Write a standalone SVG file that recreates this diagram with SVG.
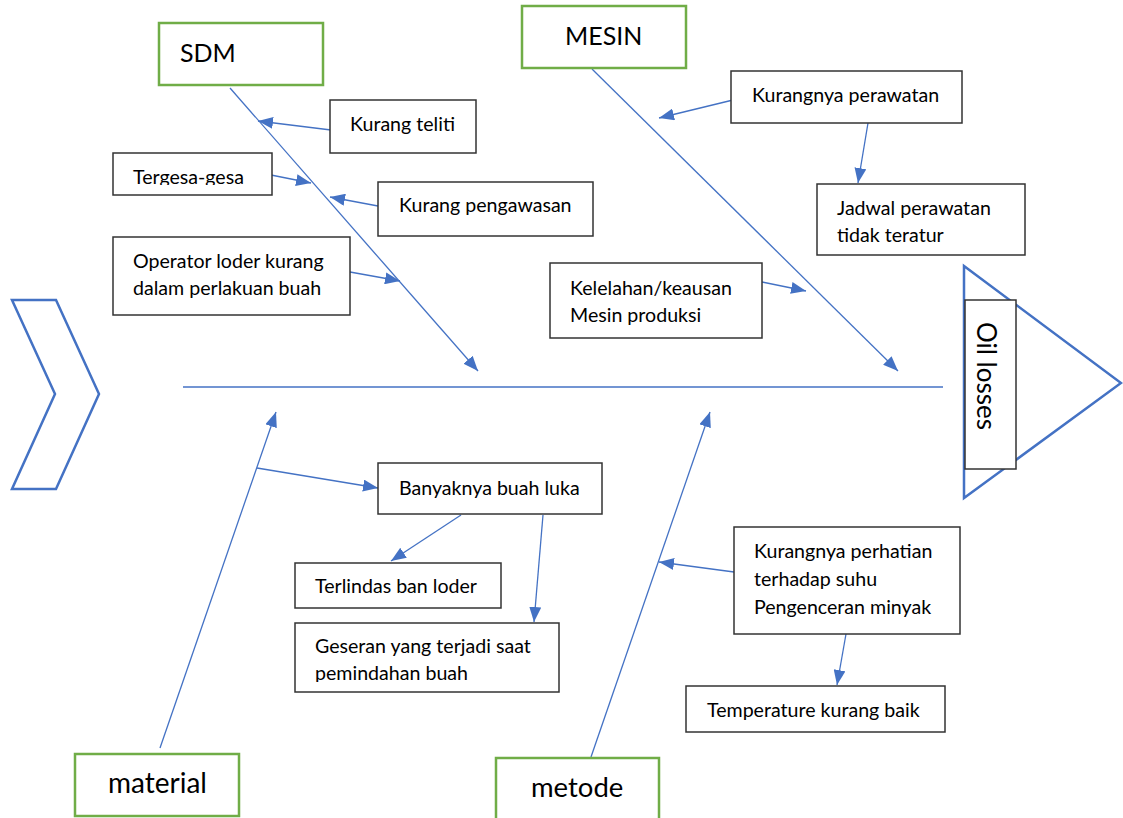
<svg xmlns="http://www.w3.org/2000/svg" width="1123" height="818" viewBox="0 0 1123 818">
<style>
.box{fill:#fff;stroke:#333;stroke-width:1.5}
.cat{fill:#fff;stroke:#70AD47;stroke-width:2.5}
.ln{stroke:#4472C4;stroke-width:1.3;fill:none}
.arr{stroke:#4472C4;stroke-width:1.3;fill:none;marker-end:url(#ah)}
.shape{fill:#fff;stroke:#4472C4;stroke-width:2.5}
.t{font-family:Lato,"Noto Sans",sans-serif;font-size:19.6px;fill:#000}
.tc{font-family:Lato,"Noto Sans",sans-serif;font-size:25px;fill:#000}
</style>
<defs>
<marker id="ah" markerUnits="userSpaceOnUse" markerWidth="16" markerHeight="12" refX="15" refY="6" orient="auto"><path d="M0,0 L15,6 L0,12 z" fill="#4472C4"/></marker>
<clipPath id="c1"><rect x="113" y="150" width="160" height="35"/></clipPath>
<clipPath id="c2"><rect x="295" y="620" width="265" height="62"/></clipPath>
</defs>
<rect width="1123" height="818" fill="#fff"/>
<g id="head-shapes">
<polygon class="shape" points="12,300 56,300 99,394 56,489 12,489 55,394"/>
<polygon class="shape" points="964,266 1121,383 964,498"/>
</g>
<g id="connectors">
<line class="ln" x1="183" y1="387" x2="943" y2="387"/>
<line class="arr" x1="230" y1="88" x2="478" y2="371"/>
<line class="arr" x1="592" y1="69" x2="898" y2="371"/>
<line class="arr" x1="160" y1="748" x2="276" y2="412"/>
<line class="arr" x1="591" y1="757" x2="710" y2="412"/>
<line class="arr" x1="331" y1="130" x2="258" y2="121"/>
<line class="arr" x1="271" y1="175" x2="311" y2="183"/>
<line class="arr" x1="378" y1="206" x2="330" y2="197"/>
<line class="arr" x1="350" y1="272" x2="400" y2="281"/>
<line class="arr" x1="733" y1="100" x2="659" y2="118"/>
<line class="arr" x1="868" y1="123" x2="858" y2="183"/>
<line class="arr" x1="762" y1="282" x2="806" y2="291"/>
<line class="arr" x1="257" y1="468" x2="378" y2="488"/>
<line class="arr" x1="461" y1="515" x2="391" y2="561"/>
<line class="arr" x1="543" y1="515" x2="534" y2="622"/>
<line class="arr" x1="734" y1="572" x2="659" y2="562"/>
<line class="arr" x1="846" y1="634" x2="837" y2="685"/>
</g>
<g id="sdm"><rect class="cat" x="159" y="23" width="164" height="62"/><text class="tc" x="180" y="62">SDM</text></g>
<g id="mesin"><rect class="cat" x="522" y="6" width="164" height="62"/><text class="tc" x="565" y="45">MESIN</text></g>
<g id="material"><rect class="cat" x="75" y="754" width="164" height="62"/><text class="tc" x="108" y="793" style="font-size:28px">material</text></g>
<g id="metode"><rect class="cat" x="496" y="758" width="163" height="64"/><text class="tc" x="531" y="797" style="font-size:27.5px">metode</text></g>
<g id="kurang-teliti"><rect class="box" x="330" y="100" width="146" height="53"/><text class="t" x="350" y="131">Kurang teliti</text></g>
<g id="tergesa"><rect class="box" x="113" y="153" width="159" height="42"/><text class="t" x="133" y="183.5" clip-path="url(#c1)">Tergesa-gesa</text></g>
<g id="kurang-pengawasan"><rect class="box" x="378" y="182" width="215" height="54"/><text class="t" x="399" y="212">Kurang pengawasan</text></g>
<g id="operator"><rect class="box" x="113" y="237" width="237" height="78"/><text class="t" x="133" y="268">Operator loder kurang</text><text class="t" x="133" y="295">dalam perlakuan buah</text></g>
<g id="kurangnya-perawatan"><rect class="box" x="731" y="71" width="231" height="52"/><text class="t" x="752" y="102">Kurangnya perawatan</text></g>
<g id="jadwal"><rect class="box" x="817" y="184" width="208" height="71"/><text class="t" x="837" y="215">Jadwal perawatan</text><text class="t" x="837" y="242">tidak teratur</text></g>
<g id="kelelahan"><rect class="box" x="550" y="263" width="212" height="75"/><text class="t" x="570" y="295">Kelelahan/keausan</text><text class="t" x="570" y="322">Mesin produksi</text></g>
<g id="banyaknya"><rect class="box" x="378" y="463" width="224" height="51"/><text class="t" x="399" y="495">Banyaknya buah luka</text></g>
<g id="terlindas"><rect class="box" x="295" y="563" width="206" height="45"/><text class="t" x="315" y="593">Terlindas ban loder</text></g>
<g id="geseran"><rect class="box" x="295" y="623" width="264" height="69"/><text class="t" x="315" y="653">Geseran yang terjadi saat</text><text class="t" x="315" y="680" clip-path="url(#c2)">pemindahan buah</text></g>
<g id="kurangnya-perhatian"><rect class="box" x="734" y="527" width="226" height="107"/><text class="t" x="754" y="558">Kurangnya perhatian</text><text class="t" x="754" y="586">terhadap suhu</text><text class="t" x="754" y="614">Pengenceran minyak</text></g>
<g id="temperature"><rect class="box" x="686" y="686" width="259" height="46"/><text class="t" x="707" y="717">Temperature kurang baik</text></g>
<g id="oil-losses"><rect class="box" x="965" y="300" width="51" height="169"/><text class="tc" transform="translate(977,322) rotate(90)" style="font-size:26px">Oil losses</text></g>
</svg>
